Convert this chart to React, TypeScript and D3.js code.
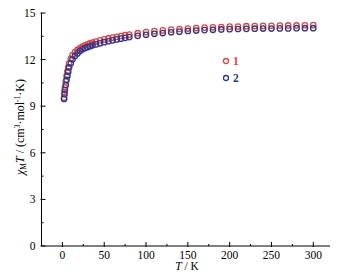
import React from "react";
import * as d3 from "d3";

const temps = [2, 2.5, 3, 4, 5, 6, 7, 8, 10, 12, 15, 18, 21, 24, 27, 30, 33, 36, 40, 45, 50, 55, 60, 65, 70, 75, 80, 90, 100, 110, 120, 130, 140, 150, 160, 170, 180, 190, 200, 210, 220, 230, 240, 250, 260, 270, 280, 290, 300];
const series1 = [9.55, 9.9, 10.2, 10.6, 10.95, 11.25, 11.5, 11.75, 12.05, 12.28, 12.48, 12.62, 12.74, 12.84, 12.92, 12.98, 13.04, 13.1, 13.16, 13.24, 13.3, 13.36, 13.42, 13.47, 13.52, 13.57, 13.61, 13.7, 13.77, 13.83, 13.88, 13.93, 13.97, 14.0, 14.03, 14.06, 14.08, 14.1, 14.12, 14.13, 14.15, 14.16, 14.17, 14.18, 14.19, 14.2, 14.2, 14.21, 14.22];
const series2 = [9.47, 9.77, 10.04, 10.37, 10.69, 10.95, 11.22, 11.5, 11.76, 12.02, 12.23, 12.4, 12.55, 12.66, 12.74, 12.8, 12.86, 12.92, 12.98, 13.05, 13.12, 13.18, 13.24, 13.3, 13.35, 13.4, 13.45, 13.53, 13.6, 13.66, 13.71, 13.76, 13.8, 13.84, 13.87, 13.9, 13.92, 13.94, 13.96, 13.97, 13.98, 13.99, 14.0, 14.0, 14.01, 14.01, 14.02, 14.02, 14.02];
const xTicks = [0, 50, 100, 150, 200, 250, 300];
const xMinor = [25, 75, 125, 175, 225, 275];
const yTicks = [0, 3, 6, 9, 12, 15];
const yMinor = [1.5, 4.5, 7.5, 10.5, 13.5];
const seriesNames = ["1", "2"];

const RED = "#e8403c";
const BLUE = "#2e3a8e";
const FONT = "'Liberation Serif', 'DejaVu Serif', serif";

export default function App() {
  const W = 338, H = 277;
  const x = d3.scaleLinear().domain([-25, 320]).range([41.5, 330]);
  const y = d3.scaleLinear().domain([0, 15]).range([246, 13]);
  const x0 = x(-25), y0 = y(0);
  const series = [
    { vals: series1, color: RED },
    { vals: series2, color: BLUE },
  ];
  return (
    <svg width={W} height={H} style={{ position: "absolute", left: 0, top: 0, background: "#fff" }}>
      {/* axes */}
      <line x1={x0} x2={x0} y1={y(15)} y2={y0} stroke="#000" strokeWidth={1} />
      <line x1={x0} x2={x(320)} y1={y0} y2={y0} stroke="#000" strokeWidth={1} />
      {yTicks.map((t) => (
        <g key={"y" + t}>
          <line x1={x0 - 1} x2={x0 + 4} y1={y(t)} y2={y(t)} stroke="#000" />
          <text x={x0 - 6} y={y(t) + 4} fontSize={11.5} fontFamily={FONT} textAnchor="end">{t}</text>
        </g>
      ))}
      {yMinor.map((t) => (
        <line key={"ym" + t} x1={x0} x2={x0 + 2} y1={y(t)} y2={y(t)} stroke="#000" />
      ))}
      {xTicks.map((t) => (
        <g key={"x" + t}>
          <line x1={x(t)} x2={x(t)} y1={y0 + 1} y2={y0 - 4} stroke="#000" />
          <text x={x(t)} y={y0 + 13} fontSize={11.5} fontFamily={FONT} textAnchor="middle">{t}</text>
        </g>
      ))}
      {xMinor.map((t) => (
        <line key={"xm" + t} x1={x(t)} x2={x(t)} y1={y0} y2={y0 - 2} stroke="#000" />
      ))}
      {/* titles */}
      <text x={187} y={270} fontSize={11.5} fontFamily={FONT} textAnchor="middle">
        <tspan fontStyle="italic">T</tspan> / K
      </text>
      <text transform={`translate(24,127) rotate(-90)`} fontSize={12} fontFamily={FONT} textAnchor="middle">
        <tspan fontStyle="italic">χ</tspan>
        <tspan fontSize={7.5} dy={2}>M</tspan>
        <tspan fontStyle="italic" dy={-2}>T</tspan>
        <tspan> / (cm</tspan>
        <tspan fontSize={7.5} dy={-4}>3</tspan>
        <tspan dy={4}>·mol</tspan>
        <tspan fontSize={7.5} dy={-4}>-1</tspan>
        <tspan dy={4}>·K)</tspan>
      </text>
      {/* data */}
      {series.map((s, si) => (
        <g key={si}>
          {s.vals.map((v, i) => (
            <circle key={i} cx={x(temps[i])} cy={y(v)} r={2.7} fill="none" stroke={s.color} strokeWidth={1.3} />
          ))}
        </g>
      ))}
      {/* legend */}
      {seriesNames.map((n, i) => (
        <g key={n}>
          <circle cx={226} cy={61 + i * 17} r={2.5} fill="none" stroke={series[i].color} strokeWidth={1.3} />
          <text x={233} y={65 + i * 17} fontSize={11.5} fontFamily={FONT} fontWeight="bold" fill={series[i].color}>{n}</text>
        </g>
      ))}
    </svg>
  );
}
